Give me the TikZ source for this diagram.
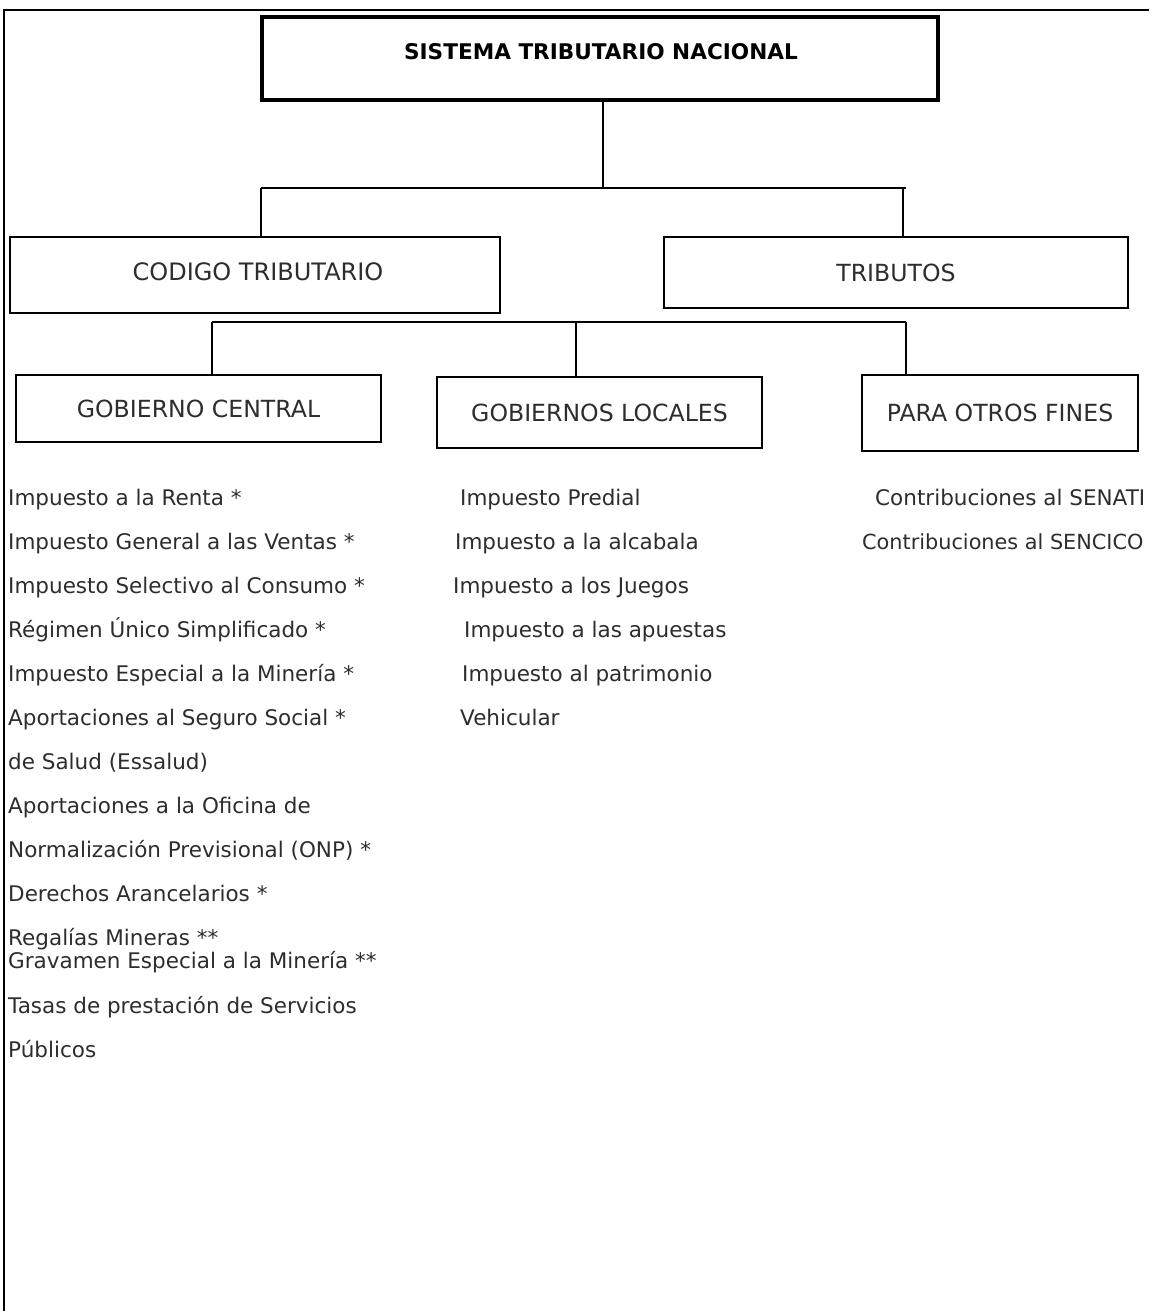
\documentclass[tikz,border=0pt]{standalone}
\usepackage{fontspec}
\setmainfont{DejaVu Sans}
\definecolor{txt}{RGB}{45,45,45}
\begin{document}
\begin{tikzpicture}[x=1pt,y=-1pt,
  box/.style={draw=black,line width=1.6pt,fill=none,inner sep=0pt,text=txt,font=\fontsize{23.6}{28}\selectfont},
  topbox/.style={draw=black,line width=3.5pt,inner sep=0pt},
  conn/.style={line width=1.6pt,black},
  item/.style={anchor=base west,inner sep=0pt,text=txt,font=\fontsize{21.5}{26}\selectfont}]
\useasboundingbox (0,0) rectangle (1149,1311);
\clip (0,0) rectangle (1149,1311);
% frame
\coordinate (fc) at (4,10);
\draw[line width=1.6pt] (1149,10) -- (fc) -- (4,1311);
% boxes
\node[topbox,minimum width=676pt,minimum height=83pt] (top) at (600,58.5) {};
\node[font=\bfseries\fontsize{21.6}{26}\selectfont,inner sep=0pt] (toptxt) at (601,52) {SISTEMA TRIBUTARIO NACIONAL};
\node[box,minimum width=490pt,minimum height=76pt] (cod) at (255,275) {};
\node[text=txt,font=\fontsize{24}{28}\selectfont,inner sep=0pt] (codt) at (258,272) {CODIGO TRIBUTARIO};
\node[box,minimum width=464pt,minimum height=71pt] (tri) at (896,272.5) {TRIBUTOS};
\node[box,minimum width=365pt,minimum height=67pt] (gc) at (198.5,408.5) {GOBIERNO CENTRAL};
\node[box,minimum width=325pt,minimum height=71pt] (gl) at (599.5,412.5) {GOBIERNOS LOCALES};
\node[box,minimum width=276pt,minimum height=76pt] (pof) at (1000,413) {PARA OTROS FINES};
% connectors level 1
\coordinate (j0) at (603,188);
\coordinate (jl) at (261,188);
\coordinate (jr) at (906,188);
\coordinate (jrv) at (903,188);
\draw[conn] (top.south -| j0) -- (j0);
\draw[conn] (jl) -- (jr);
\draw[conn] (jl) -- (jl |- cod.north);
\draw[conn] (jrv) -- (jrv |- tri.north);
% connectors level 2
\coordinate (kl) at (212,322);
\coordinate (km) at (576,322);
\coordinate (kr) at (906,322);
\draw[conn] (kl) -- (kr);
\draw[conn] (kl) -- (kl |- gc.north);
\draw[conn] (km) -- (km |- gl.north);
\draw[conn] (kr) -- (kr |- pof.north);
% left list
\node[item] (a1) at (8,505) {Impuesto a la Renta *};
\node[item] (a2) at (8,549) {Impuesto General a las Ventas *};
\node[item] (a3) at (8,593) {Impuesto Selectivo al Consumo *};
\node[item] (a4) at (8,637) {Régimen Único Simplificado *};
\node[item] (a5) at (8,681) {Impuesto Especial a la Minería *};
\node[item] (a6) at (8,725) {Aportaciones al Seguro Social *};
\node[item] (a7) at (8,769) {de Salud (Essalud)};
\node[item] (a8) at (8,813) {Aportaciones a la Oficina de};
\node[item] (a9) at (8,857) {Normalización Previsional (ONP) *};
\node[item] (a10) at (8,901) {Derechos Arancelarios *};
\node[item] (a11) at (8,945) {Regalías Mineras **};
\node[item] (a12) at (8,968) {Gravamen Especial a la Minería **};
\node[item] (a13) at (8,1013) {Tasas de prestación de Servicios};
\node[item] (a14) at (8,1057) {Públicos};
% middle list
\node[item] (b1) at (460,505) {Impuesto Predial};
\node[item] (b2) at (455,549) {Impuesto a la alcabala};
\node[item] (b3) at (453,593) {Impuesto a los Juegos};
\node[item] (b4) at (464,637) {Impuesto a las apuestas};
\node[item] (b5) at (462,681) {Impuesto al patrimonio};
\node[item] (b6) at (460,725) {Vehicular};
% right list
\node[item] (c1) at (875,505) {Contribuciones al SENATI};
\node[item,font=\fontsize{20.8}{26}\selectfont] (c2) at (862,549) {Contribuciones al SENCICO};
\end{tikzpicture}
\end{document}
